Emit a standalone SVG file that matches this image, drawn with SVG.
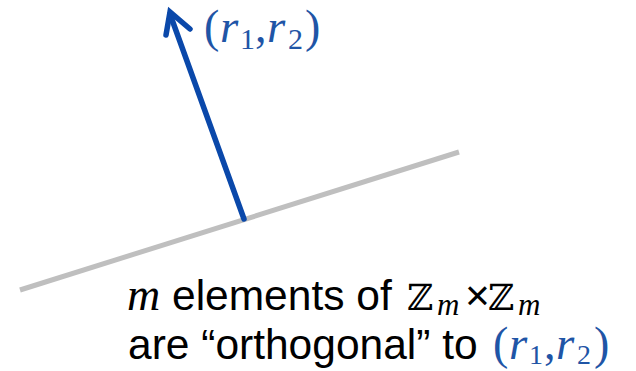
<svg xmlns="http://www.w3.org/2000/svg" width="636" height="371" viewBox="0 0 636 371">
<style>
.txt{font-family:"Liberation Sans",Arial,sans-serif;font-size:42.5px;fill:#000}
.mi{font-family:"Liberation Serif","DejaVu Serif",serif;font-style:italic}
.mr{font-family:"Liberation Serif","DejaVu Serif",serif;font-style:normal}
.bb{font-family:"DejaVu Serif",serif;font-style:normal}
.blue{fill:#1f55a6}
</style>
<rect width="636" height="371" fill="#fff"/>
<g id="connectors">
<line id="plane" x1="20" y1="290" x2="459" y2="152" stroke="#bfbfbf" stroke-width="5"/>
<g id="vector" stroke="#0a48aa" stroke-width="5.5" fill="none" stroke-linecap="round" stroke-linejoin="miter">
<line x1="244" y1="219" x2="170" y2="14"/>
<polyline points="166,35 170,12 190,29"/>
</g>
</g>
<g id="label-top">
<text class="mr blue" y="42" font-size="46"><tspan x="204">(</tspan><tspan class="mi" x="220" font-size="47">r</tspan><tspan x="240" y="49" font-size="30">1</tspan><tspan x="255" y="42">,</tspan><tspan class="mi" x="267" font-size="47">r</tspan><tspan x="288" y="49" font-size="30">2</tspan><tspan x="305" y="42">)</tspan></text>
</g>
<g id="caption">
<text class="mi" x="127" y="310" font-size="46">m</text>
<text class="txt" x="172" y="310">elements of</text>
<text class="bb" y="310" font-size="36"><tspan x="407">ℤ</tspan><tspan class="mi" x="437" y="315" font-size="31">m</tspan><tspan class="txt" x="465" y="310" font-size="34">×</tspan><tspan x="488">ℤ</tspan><tspan class="mi" x="518" y="315" font-size="31">m</tspan></text>
<text class="txt" x="128" y="359">are “orthogonal” to</text>
<text class="mr blue" y="359" font-size="46"><tspan x="493">(</tspan><tspan class="mi" x="509" font-size="47">r</tspan><tspan x="529" y="364" font-size="28">1</tspan><tspan x="544" y="359">,</tspan><tspan class="mi" x="556" font-size="47">r</tspan><tspan x="577" y="364" font-size="28">2</tspan><tspan x="594" y="359">)</tspan></text>
</g>
</svg>
